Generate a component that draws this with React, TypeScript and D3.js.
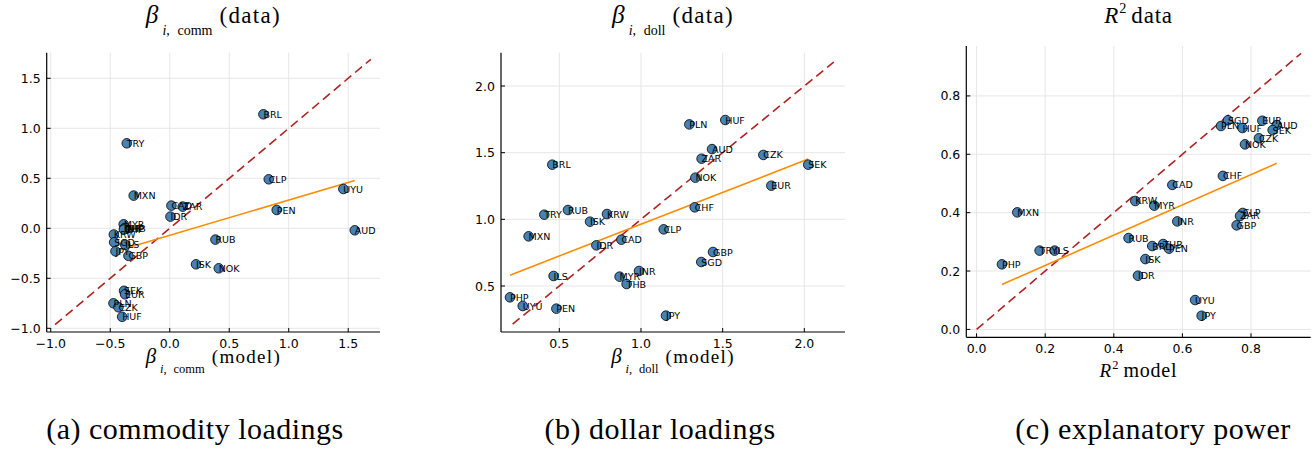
import * as React from "react";
import * as d3 from "d3";

// (a) commodity loadings: model vs data
const commLabels = ["BRL", "TRY", "CLP", "UYU", "PEN", "AUD", "RUB", "ISK", "NOK", "MXN", "CAD", "ZAR", "IDR", "MYR", "INR", "THB", "PHP", "CHF", "KRW", "SGD", "ILS", "JPY", "GBP", "SEK", "EUR", "PLN", "CZK", "HUF"];
const commModel = [0.787, -0.361, 0.832, 1.459, 0.899, 1.555, 0.384, 0.221, 0.412, -0.303, 0.014, 0.109, 0.006, -0.387, -0.38, -0.365, -0.372, -0.385, -0.47, -0.467, -0.374, -0.456, -0.347, -0.384, -0.375, -0.473, -0.431, -0.4];
const commData = [1.14, 0.85, 0.49, 0.393, 0.183, -0.02, -0.113, -0.36, -0.4, 0.327, 0.227, 0.217, 0.117, 0.04, 0.0, -0.005, 0.003, -0.012, -0.062, -0.14, -0.165, -0.23, -0.275, -0.625, -0.66, -0.75, -0.79, -0.885];
const commFit = [[-0.474, -0.236], [1.555, 0.478]];
const commDiag = [-0.964, 1.69];
const commXTicks = [-1.0, -0.5, 0.0, 0.5, 1.0, 1.5];
const commYTicks = [-1.0, -0.5, 0.0, 0.5, 1.0, 1.5];

// (b) dollar loadings
const dollLabels = ["PLN", "HUF", "AUD", "ZAR", "CZK", "SEK", "BRL", "NOK", "EUR", "CHF", "RUB", "TRY", "KRW", "ISK", "CLP", "MXN", "CAD", "IDR", "GBP", "SGD", "INR", "ILS", "MYR", "THB", "PHP", "UYU", "PEN", "JPY"];
const dollModel = [1.296, 1.516, 1.435, 1.371, 1.749, 2.024, 0.457, 1.333, 1.798, 1.329, 0.553, 0.408, 0.792, 0.688, 1.139, 0.312, 0.88, 0.727, 1.441, 1.369, 0.988, 0.465, 0.869, 0.912, 0.198, 0.276, 0.482, 1.153];
const dollData = [1.712, 1.745, 1.527, 1.455, 1.483, 1.41, 1.41, 1.3125, 1.2525, 1.09, 1.07, 1.035, 1.04, 0.9825, 0.925, 0.8725, 0.8475, 0.805, 0.755, 0.68, 0.6125, 0.575, 0.57, 0.515, 0.415, 0.35, 0.33, 0.2775];
const dollFit = [[0.198, 0.5815], [2.024, 1.452]];
const dollDiag = [0.214, 2.18];
const dollXTicks = [0.5, 1.0, 1.5, 2.0];
const dollYTicks = [0.5, 1.0, 1.5, 2.0];

// (c) explanatory power
const r2Labels = ["SGD", "PLN", "HUF", "EUR", "AUD", "SEK", "CZK", "NOK", "CHF", "CAD", "KRW", "MYR", "MXN", "INR", "CLP", "ZAR", "GBP", "RUB", "BRL", "THB", "PEN", "ISK", "IDR", "UYU", "JPY", "TRY", "ILS", "PHP"];
const r2Model = [0.733, 0.7125, 0.775, 0.833, 0.875, 0.863, 0.823, 0.7825, 0.718, 0.5706, 0.4627, 0.518, 0.1186, 0.585, 0.776, 0.768, 0.758, 0.443, 0.512, 0.544, 0.561, 0.492, 0.4705, 0.637, 0.656, 0.1837, 0.2275, 0.0739];
const r2Data = [0.7166, 0.697, 0.69, 0.715, 0.7, 0.683, 0.655, 0.634, 0.526, 0.495, 0.44, 0.424, 0.401, 0.37, 0.399, 0.3886, 0.3566, 0.313, 0.2857, 0.2926, 0.2766, 0.241, 0.184, 0.1006, 0.0469, 0.27, 0.27, 0.223];
const r2Fit = [[0.0739, 0.154], [0.875, 0.569]];
const r2Diag = [0, 0.946];
const r2XTicks = [0.0, 0.2, 0.4, 0.6, 0.8];
const r2YTicks = [0.0, 0.2, 0.4, 0.6, 0.8];

const W = 1315;
const H = 453;
// single family names only: lists with fallbacks did not resolve here
const serif = { fontFamily: "Liberation Serif" };
const sans = { fontFamily: "DejaVu Sans" };
const fmt = d3.format(".1f");

type PanelProps = {
  box: { left: number; right: number; top: number; bottom: number };
  xDomain: number[];
  yDomain: number[];
  xTicks: number[];
  yTicks: number[];
  labels: string[];
  model: number[];
  data: number[];
  fit: number[][];
  diag: number[];
  title: React.ReactNode;
  xLabel: React.ReactNode;
  xLabelY: number;
  caption: string;
  captionX: number;
};

function Panel(p: PanelProps) {
  const { box } = p;
  const x = d3.scaleLinear().domain(p.xDomain).range([box.left, box.right]);
  const y = d3.scaleLinear().domain(p.yDomain).range([box.bottom, box.top]);
  const line = d3
    .line<number[]>()
    .x((d) => x(d[0]))
    .y((d) => y(d[1]));
  const cx = (box.left + box.right) / 2;

  return (
    <g>
      {/* grid */}
      {p.xTicks.map((t) => (
        <line key={"gx" + t} x1={x(t)} x2={x(t)} y1={box.top} y2={box.bottom} stroke="#e6e6e6" strokeWidth={1} />
      ))}
      {p.yTicks.map((t) => (
        <line key={"gy" + t} x1={box.left} x2={box.right} y1={y(t)} y2={y(t)} stroke="#e6e6e6" strokeWidth={1} />
      ))}

      {/* axes */}
      <line x1={box.left} x2={box.right} y1={box.bottom} y2={box.bottom} stroke="#000" strokeWidth={1.2} />
      <line x1={box.left} x2={box.left} y1={box.top} y2={box.bottom} stroke="#000" strokeWidth={1.2} />
      {p.xTicks.map((t) => (
        <g key={"tx" + t}>
          <line x1={x(t)} x2={x(t)} y1={box.bottom} y2={box.bottom - 4} stroke="#000" strokeWidth={1} />
          <text x={x(t)} y={box.bottom + 16} textAnchor="middle" style={sans} fontSize={12.5} fill="#000">
            {fmt(t)}
          </text>
        </g>
      ))}
      {p.yTicks.map((t) => (
        <g key={"ty" + t}>
          <line x1={box.left} x2={box.left + 4} y1={y(t)} y2={y(t)} stroke="#000" strokeWidth={1} />
          <text x={box.left - 6} y={y(t)} textAnchor="end" dominantBaseline="central" style={sans} fontSize={12.5} fill="#000">
            {fmt(t)}
          </text>
        </g>
      ))}

      {/* 45 degree line and fitted line */}
      <path
        d={line([[p.diag[0], p.diag[0]], [p.diag[1], p.diag[1]]]) || ""}
        fill="none"
        stroke="#b22222"
        strokeWidth={1.6}
        strokeDasharray="9,5"
      />
      <path d={line(p.fit) || ""} fill="none" stroke="#ff8c00" strokeWidth={1.6} />

      {/* points */}
      {p.labels.map((l, i) => (
        <circle key={"c" + l} cx={x(p.model[i])} cy={y(p.data[i])} r={4.8} fill="#4682b4" stroke="#000" strokeWidth={0.8} />
      ))}
      {p.labels.map((l, i) => (
        <text key={"l" + l} x={x(p.model[i])} y={y(p.data[i])} dominantBaseline="central" style={sans} fontSize={9.5} fill="#000">
          {l}
        </text>
      ))}

      {/* title, x label, caption */}
      <text x={cx} y={23} textAnchor="middle" style={serif} fontSize={23} fill="#000">
        {p.title}
      </text>
      <text x={cx} y={p.xLabelY} textAnchor="middle" style={serif} fontSize={19} fill="#000">
        {p.xLabel}
      </text>
      <text x={p.captionX} y={439} textAnchor="middle" style={serif} fontSize={30} letterSpacing={0.5} fill="#000">
        {p.caption}
      </text>
    </g>
  );
}

function BetaLabel({ sub, rest, size, subSize, shift }: { sub: string; rest: string; size: number; subSize: number; shift: number }) {
  return (
    <>
      <tspan fontStyle="italic" fontSize={size * 1.1}>β</tspan>
      <tspan dx={4} dy={shift} fontSize={subSize}>
        <tspan fontStyle="italic">i</tspan>
        {","}
        <tspan dx={subSize * 0.55}>{sub}</tspan>
      </tspan>
      <tspan dx={7} dy={-shift} fontSize={size} letterSpacing={1.3}>
        {rest}
      </tspan>
    </>
  );
}

function R2Label({ rest, size }: { rest: string; size: number }) {
  return (
    <>
      <tspan fontStyle="italic">R</tspan>
      <tspan dx={1} dy={-size * 0.42} fontSize={size * 0.62}>
        2
      </tspan>
      <tspan dx={5} dy={size * 0.42} fontSize={size} letterSpacing={0.8}>
        {rest}
      </tspan>
    </>
  );
}

export default function App() {
  return (
    <svg width={W} height={H} style={{ position: "absolute", left: 0, top: 0, background: "#fff" }}>
      <rect width={W} height={H} fill="#fff" />
      <Panel
        box={{ left: 46.7, right: 380, top: 52.7, bottom: 332 }}
        xDomain={[-1.034, 1.767]}
        yDomain={[-1.037, 1.756]}
        xTicks={commXTicks}
        yTicks={commYTicks}
        labels={commLabels}
        model={commModel}
        data={commData}
        fit={commFit}
        diag={commDiag}
        title={<BetaLabel sub="comm" rest="(data)" size={23} subSize={14} shift={12} />}
        xLabel={<BetaLabel sub="comm" rest="(model)" size={19} subSize={12.5} shift={10} />}
        xLabelY={363}
        caption="(a) commodity loadings"
        captionX={195}
      />
      <Panel
        box={{ left: 501, right: 845, top: 52.7, bottom: 332 }}
        xDomain={[0.143, 2.249]}
        yDomain={[0.155, 2.25]}
        xTicks={dollXTicks}
        yTicks={dollYTicks}
        labels={dollLabels}
        model={dollModel}
        data={dollData}
        fit={dollFit}
        diag={dollDiag}
        title={<BetaLabel sub="doll" rest="(data)" size={23} subSize={14} shift={12} />}
        xLabel={<BetaLabel sub="doll" rest="(model)" size={19} subSize={12.5} shift={10} />}
        xLabelY={363}
        caption="(b) dollar loadings"
        captionX={660}
      />
      <Panel
        box={{ left: 966.3, right: 1310.7, top: 46, bottom: 337.3 }}
        xDomain={[-0.03, 0.974]}
        yDomain={[-0.027, 0.971]}
        xTicks={r2XTicks}
        yTicks={r2YTicks}
        labels={r2Labels}
        model={r2Model}
        data={r2Data}
        fit={r2Fit}
        diag={r2Diag}
        title={<R2Label rest="data" size={23} />}
        xLabel={<R2Label rest="model" size={20} />}
        xLabelY={377}
        caption="(c) explanatory power"
        captionX={1153}
      />
    </svg>
  );
}
